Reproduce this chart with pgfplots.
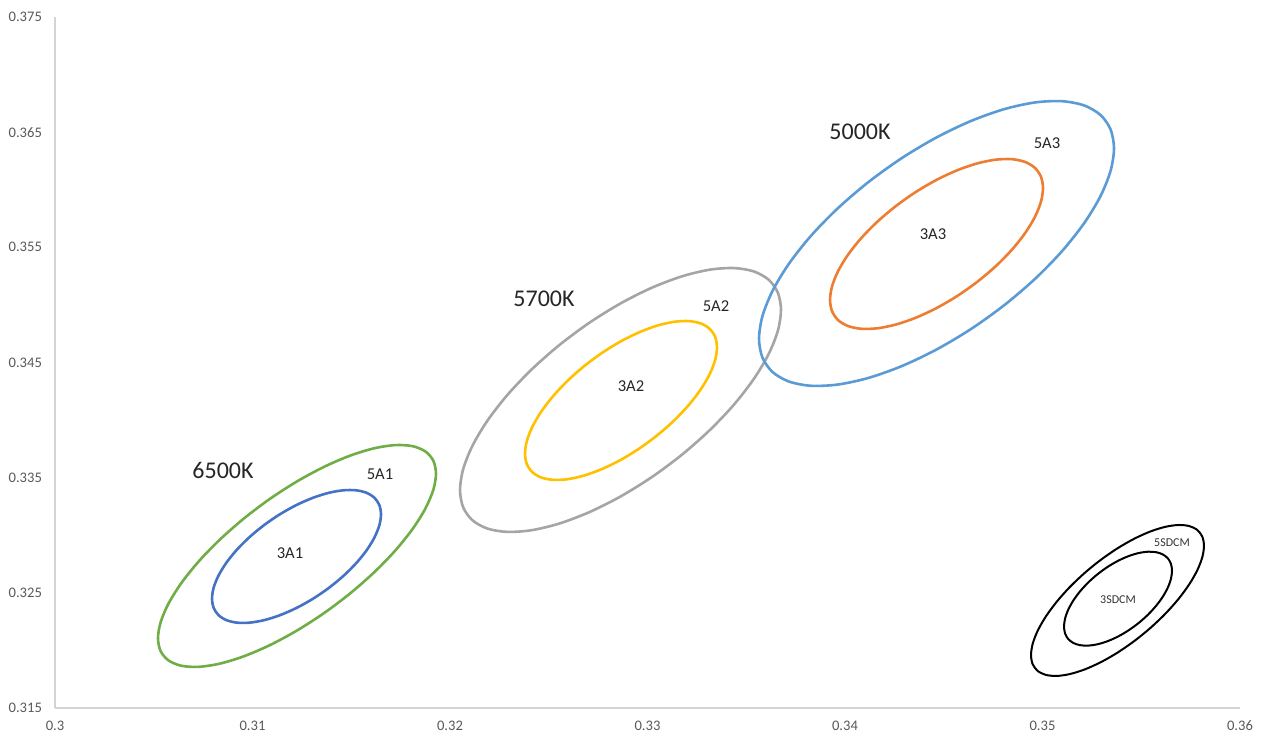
\documentclass[border=0pt]{standalone}
\usepackage{pgfplots}
\pgfplotsset{compat=1.18}
\usepackage{fontspec}
\setmainfont{Carlito}
\definecolor{cA}{HTML}{4472C4}
\definecolor{cB}{HTML}{70AD47}
\definecolor{cC}{HTML}{FFC000}
\definecolor{cD}{HTML}{A5A5A5}
\definecolor{cE}{HTML}{ED7D31}
\definecolor{cF}{HTML}{5B9BD5}
\begin{document}
\begin{tikzpicture}
\begin{axis}[name=ax, scale only axis, width=592.5pt, height=345.5pt,
 xmin=0.3, xmax=0.36, ymin=0.315, ymax=0.375,
 xtick={0.3,0.31,0.32,0.33,0.34,0.35,0.36},
 ytick={0.315,0.325,0.335,0.345,0.355,0.365,0.375},
 axis x line=bottom, axis y line=left,
 axis line style={-, draw=black!17, line width=0.8pt},
 major tick length=0pt, tick style={draw=none},
 scaled ticks=false,
 /pgf/number format/assume math mode=true,
 /pgf/number format/fixed, /pgf/number format/precision=3,
 ticklabel style={font=\fontsize{7.3}{8}\selectfont, text=black!65},
 xticklabel style={yshift=-3pt},
 yticklabel style={xshift=-3pt},
 clip=false,
]
% 5A1
\addplot[cB, line width=1.3pt, smooth cycle, tension=0.5] coordinates {
(0.319291,0.335342) (0.319156,0.336468) (0.318755,0.337275) (0.318105,0.337734)
(0.317230,0.337827) (0.316163,0.337550) (0.314946,0.336913) (0.313626,0.335942)
(0.312253,0.334673) (0.310880,0.333156) (0.309560,0.331447) (0.308343,0.329614)
(0.307276,0.327727) (0.306401,0.325858) (0.305751,0.324079) (0.305350,0.322458)
(0.305215,0.321058) (0.305350,0.319932) (0.305751,0.319125) (0.306401,0.318666)
(0.307276,0.318573) (0.308343,0.318850) (0.309560,0.319487) (0.310880,0.320458)
(0.312253,0.321727) (0.313626,0.323244) (0.314946,0.324953) (0.316163,0.326786)
(0.317230,0.328673) (0.318105,0.330542) (0.318755,0.332321) (0.319156,0.333942)};
% 3A1
\addplot[cA, line width=1.3pt, smooth cycle, tension=0.5] coordinates {
(0.316506,0.331811) (0.316424,0.332613) (0.316180,0.333243) (0.315785,0.333678)
(0.315253,0.333901) (0.314605,0.333903) (0.313865,0.333684) (0.313063,0.333252)
(0.312228,0.332625) (0.311393,0.331826) (0.310591,0.330886) (0.309851,0.329841)
(0.309203,0.328732) (0.308671,0.327600) (0.308276,0.326489) (0.308032,0.325443)
(0.307950,0.324501) (0.308032,0.323699) (0.308276,0.323069) (0.308671,0.322634)
(0.309203,0.322411) (0.309851,0.322409) (0.310591,0.322628) (0.311393,0.323060)
(0.312228,0.323687) (0.313063,0.324486) (0.313865,0.325426) (0.314605,0.326471)
(0.315253,0.327580) (0.315785,0.328712) (0.316180,0.329823) (0.316424,0.330869)};
% 5A2
\addplot[cD, line width=1.3pt, smooth cycle, tension=0.5] coordinates {
(0.336759,0.349562) (0.336603,0.351047) (0.336141,0.352175) (0.335390,0.352902)
(0.334379,0.353199) (0.333148,0.353057) (0.331743,0.352481) (0.330218,0.351491)
(0.328633,0.350127) (0.327048,0.348441) (0.325523,0.346497) (0.324118,0.344371)
(0.322887,0.342145) (0.321876,0.339902) (0.321125,0.337731) (0.320663,0.335713)
(0.320507,0.333928) (0.320663,0.332443) (0.321125,0.331315) (0.321876,0.330588)
(0.322887,0.330291) (0.324118,0.330433) (0.325523,0.331009) (0.327048,0.331999)
(0.328633,0.333363) (0.330218,0.335049) (0.331743,0.336993) (0.333148,0.339119)
(0.334379,0.341345) (0.335390,0.343588) (0.336141,0.345759) (0.336603,0.347777)};
% 3A2
\addplot[cC, line width=1.3pt, smooth cycle, tension=0.5] coordinates {
(0.333518,0.346306) (0.333425,0.347221) (0.333148,0.347924) (0.332699,0.348387)
(0.332095,0.348594) (0.331358,0.348535) (0.330518,0.348215) (0.329606,0.347643)
(0.328658,0.346844) (0.327710,0.345847) (0.326798,0.344691) (0.325958,0.343419)
(0.325221,0.342081) (0.324617,0.340729) (0.324168,0.339414) (0.323891,0.338187)
(0.323798,0.337096) (0.323891,0.336181) (0.324168,0.335478) (0.324617,0.335015)
(0.325221,0.334808) (0.325958,0.334867) (0.326798,0.335187) (0.327710,0.335759)
(0.328658,0.336558) (0.329606,0.337555) (0.330518,0.338711) (0.331358,0.339983)
(0.332095,0.341321) (0.332699,0.342673) (0.333148,0.343988) (0.333425,0.345215)};
% 5A3
\addplot[cF, line width=1.3pt, smooth cycle, tension=0.5] coordinates {
(0.353620,0.363598) (0.353447,0.365235) (0.352936,0.366493) (0.352105,0.367321)
(0.350988,0.367688) (0.349626,0.367581) (0.348072,0.367003) (0.346386,0.365976)
(0.344633,0.364541) (0.342880,0.362752) (0.341194,0.360677) (0.339640,0.358397)
(0.338278,0.356000) (0.337161,0.353577) (0.336330,0.351221) (0.335819,0.349023)
(0.335646,0.347068) (0.335819,0.345431) (0.336330,0.344173) (0.337161,0.343345)
(0.338278,0.342978) (0.339640,0.343085) (0.341194,0.343663) (0.342880,0.344690)
(0.344633,0.346125) (0.346386,0.347914) (0.348072,0.349989) (0.349626,0.352269)
(0.350988,0.354666) (0.352105,0.357089) (0.352936,0.359445) (0.353447,0.361643)};
% 3A3
\addplot[cE, line width=1.3pt, smooth cycle, tension=0.5] coordinates {
(0.350025,0.360139) (0.349921,0.361132) (0.349615,0.361900) (0.349116,0.362414)
(0.348446,0.362654) (0.347629,0.362611) (0.346696,0.362287) (0.345685,0.361694)
(0.344633,0.360855) (0.343581,0.359802) (0.342570,0.358575) (0.341637,0.357223)
(0.340820,0.355796) (0.340150,0.354350) (0.339651,0.352940) (0.339345,0.351620)
(0.339241,0.350441) (0.339345,0.349448) (0.339651,0.348680) (0.340150,0.348166)
(0.340820,0.347926) (0.341637,0.347969) (0.342570,0.348293) (0.343581,0.348886)
(0.344633,0.349725) (0.345685,0.350778) (0.346696,0.352005) (0.347629,0.353357)
(0.348446,0.354784) (0.349116,0.356230) (0.349615,0.357640) (0.349921,0.358960)};
% 5SDCM
\addplot[black, line width=1pt, smooth cycle, tension=0.5] coordinates {
(0.358176,0.329076) (0.358092,0.329869) (0.357843,0.330448) (0.357438,0.330793)
(0.356893,0.330890) (0.356230,0.330735) (0.355473,0.330334) (0.354651,0.329703)
(0.353797,0.328865) (0.352943,0.327853) (0.352121,0.326706) (0.351364,0.325469)
(0.350701,0.324187) (0.350156,0.322911) (0.349751,0.321690) (0.349502,0.320571)
(0.349418,0.319596) (0.349502,0.318803) (0.349751,0.318224) (0.350156,0.317879)
(0.350701,0.317782) (0.351364,0.317937) (0.352121,0.318338) (0.352943,0.318969)
(0.353797,0.319807) (0.354651,0.320819) (0.355473,0.321966) (0.356230,0.323203)
(0.356893,0.324485) (0.357438,0.325761) (0.357843,0.326982) (0.358092,0.328101)};
% 3SDCM
\addplot[black, line width=1pt, smooth cycle, tension=0.5] coordinates {
(0.356557,0.326912) (0.356504,0.327507) (0.356349,0.327986) (0.356096,0.328330)
(0.355756,0.328527) (0.355342,0.328568) (0.354869,0.328454) (0.354356,0.328187)
(0.353823,0.327778) (0.353290,0.327243) (0.352777,0.326602) (0.352304,0.325880)
(0.351890,0.325104) (0.351550,0.324306) (0.351297,0.323514) (0.351142,0.322759)
(0.351089,0.322072) (0.351142,0.321477) (0.351297,0.320998) (0.351550,0.320654)
(0.351890,0.320457) (0.352304,0.320416) (0.352777,0.320530) (0.353290,0.320797)
(0.353823,0.321206) (0.354356,0.321741) (0.354869,0.322382) (0.355342,0.323104)
(0.355756,0.323880) (0.356096,0.324678) (0.356349,0.325470) (0.356504,0.326225)};
% labels
\node[font=\fontsize{12}{14}\selectfont, text=black!85] at (axis cs:0.308506,0.335580) {6500K};
\node[font=\fontsize{12}{14}\selectfont, text=black!85] at (axis cs:0.324759,0.350514) {5700K};
\node[font=\fontsize{12}{14}\selectfont, text=black!85] at (axis cs:0.340759,0.365015) {5000K};
\node[font=\fontsize{8.3}{10}\selectfont, text=black!85] at (axis cs:0.316456,0.335320) {5A1};
\node[font=\fontsize{8.3}{10}\selectfont, text=black!85] at (axis cs:0.311899,0.328460) {3A1};
\node[font=\fontsize{8.3}{10}\selectfont, text=black!85] at (axis cs:0.333468,0.349906) {5A2};
\node[font=\fontsize{8.3}{10}\selectfont, text=black!85] at (axis cs:0.329165,0.342960) {3A2};
\node[font=\fontsize{8.3}{10}\selectfont, text=black!85] at (axis cs:0.350228,0.364059) {5A3};
\node[font=\fontsize{8.3}{10}\selectfont, text=black!85] at (axis cs:0.344456,0.356158) {3A3};
\node[font=\fontsize{6}{7}\selectfont, text=black!80] at (axis cs:0.356557,0.329329) {5SDCM};
\node[font=\fontsize{6}{7}\selectfont, text=black!80] at (axis cs:0.353823,0.324380) {3SDCM};
\end{axis}
\path ([shift={(-27.5pt,-15pt)}]ax.south west) rectangle ([shift={(11.5pt,8.5pt)}]ax.north east);
\end{tikzpicture}
\end{document}
